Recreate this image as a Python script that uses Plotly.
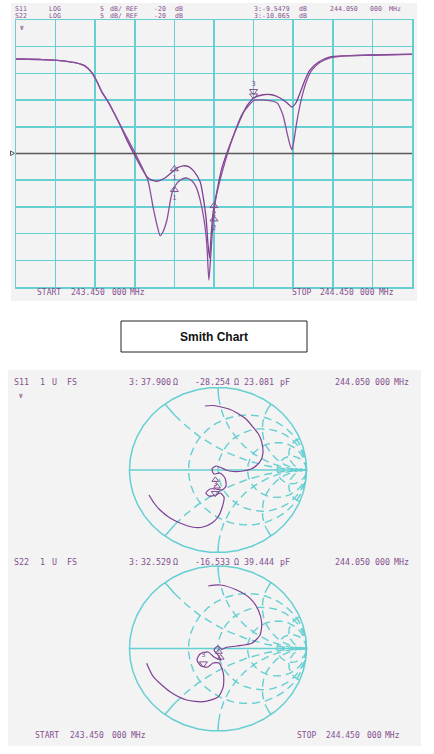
import numpy as np
import plotly.graph_objects as go

W, H = 434, 754

# ---------------- Log-magnitude data (S11 / S22) ----------------
s11_freq_mhz = [243.450, 243.511, 243.548, 243.574, 243.599, 243.624, 243.642, 243.655, 243.667, 243.680,
                243.687, 243.713, 243.730, 243.756, 243.781, 243.793, 243.806, 243.826, 243.844, 243.857,
                243.872, 243.887, 243.899, 243.915, 243.922, 243.930, 243.935, 243.939, 243.942, 243.947,
                243.958, 243.970, 243.990, 244.016, 244.033, 244.051, 244.074, 244.096, 244.117, 244.134,
                244.147, 244.157, 244.167, 244.180, 244.192, 244.213, 244.243, 244.281, 244.344, 244.450]
s11_db = [-2.3, -2.4, -2.5, -2.7, -3.0, -3.6, -4.9, -6.6, -8.5, -10.0,
          -10.9, -14.7, -17.5, -21.2, -24.4, -25.0, -25.2, -24.6, -23.5, -22.7,
          -22.3, -22.5, -23.3, -25.3, -27.8, -32.1, -37.1, -39.6, -36.2, -31.5,
          -26.8, -22.7, -18.4, -13.7, -11.1, -9.55, -9.0, -9.0, -9.6, -10.5,
          -11.3, -10.5, -8.7, -6.2, -4.4, -2.9, -1.9, -1.7, -1.55, -1.4]

s22_freq_mhz = [243.450, 243.511, 243.548, 243.574, 243.599, 243.624, 243.642, 243.655, 243.667, 243.680,
                243.687, 243.720, 243.756, 243.783, 243.796, 243.806, 243.814, 243.821, 243.831, 243.844,
                243.857, 243.869, 243.882, 243.894, 243.905, 243.915, 243.925, 243.932, 243.937, 243.942,
                243.947, 243.954, 243.972, 243.998, 244.023, 244.051, 244.079, 244.109, 244.124, 244.134,
                244.142, 244.147, 244.152, 244.160, 244.172, 244.185, 244.197, 244.218, 244.243, 244.281,
                244.344, 244.450]
s22_db = [-2.3, -2.4, -2.5, -2.7, -3.0, -3.6, -4.9, -6.6, -8.5, -10.0,
          -10.9, -15.6, -20.7, -25.0, -30.0, -33.4, -35.4, -34.7, -32.5, -27.4,
          -25.5, -24.8, -24.6, -25.1, -26.3, -28.7, -32.5, -37.1, -43.7, -39.0,
          -33.4, -28.7, -23.1, -16.9, -12.4, -10.07, -10.0, -10.5, -12.8, -16.0,
          -18.4, -19.3, -17.5, -13.7, -9.4, -6.2, -4.4, -2.9, -2.1, -1.7,
          -1.6, -1.45]

marker_freq_mhz = [243.85, 243.95, 244.05]
marker_labels = ["1", "2", "3"]
s11_marker_db = [-22.9, -29.8, -9.5479]
s22_marker_db = [-26.8, -32.3, -10.065]

# ---------------- Smith chart data (reflection coefficient) ----------------
s11_gamma_re = [-0.147, -0.068, 0.023, 0.124, 0.215, 0.316, 0.395, 0.463, 0.497, 0.508,
                0.486, 0.441, 0.373, 0.282, 0.169, 0.090, 0.045, -0.023, -0.068, -0.045,
                0.023, 0.079, 0.090, 0.045, -0.023, -0.090, -0.136, -0.102, -0.023, 0.023,
                0.068, 0.045, 0.000, -0.068, -0.169, -0.294, -0.429, -0.542, -0.655, -0.723,
                -0.780]
s11_gamma_im = [0.776, 0.782, 0.767, 0.739, 0.691, 0.618, 0.521, 0.424, 0.327, 0.206,
                0.121, 0.061, 0.012, -0.012, -0.018, 0.000, 0.024, 0.048, 0.012, -0.048,
                -0.036, -0.097, -0.194, -0.242, -0.230, -0.230, -0.279, -0.315, -0.303, -0.279,
                -0.327, -0.461, -0.570, -0.642, -0.691, -0.691, -0.642, -0.582, -0.485, -0.400,
                -0.303]

s22_gamma_re = [-0.110, 0.023, 0.211, 0.362, 0.455, 0.494, 0.475, 0.381, 0.211, 0.098,
                0.042, 0.000, -0.045, 0.000, 0.034, -0.045, -0.113, -0.203, -0.237, -0.192,
                -0.113, -0.056, 0.011, 0.060, 0.060, 0.003, -0.166, -0.354, -0.542, -0.731,
                -0.806]
s22_gamma_im = [0.758, 0.770, 0.709, 0.608, 0.467, 0.309, 0.164, 0.063, 0.030, 0.015,
                -0.010, 0.030, -0.018, -0.079, -0.139, -0.103, -0.042, -0.067, -0.139, -0.212,
                -0.224, -0.176, -0.176, -0.297, -0.463, -0.584, -0.645, -0.624, -0.524, -0.342,
                -0.179]

# marker 3 impedances (ohms) from the readout, Z0 = 50
s11_marker3_z = (37.900, -28.254)
s22_marker3_z = (32.529, -16.533)
# markers 1 and 2 (near match) as reflection coefficients
s11_mk12_re = [-0.030, -0.010]
s11_mk12_im = [-0.120, -0.200]
s22_mk12_re = [0.010, 0.030]
s22_mk12_im = [-0.040, -0.110]

# ---------------- style ----------------
TRACE = "#7e3f93"
TEXT = "#85508f"
GRID = "#66cfd2"
PANEL = "#f3f3f3"
MONO = "DejaVu Sans Mono"


def px(x):
    return x / W


def py(y):
    return 1 - y / H


def gamma_from_z(z, z0=50.0):
    zz = complex(z[0], z[1]) / z0
    g = (zz - 1) / (zz + 1)
    return g.real, g.imag


fig = go.Figure()

# ---- log mag traces ----
fig.add_trace(go.Scatter(x=s11_freq_mhz, y=s11_db, mode="lines", name="S11",
                         line=dict(color=TRACE, width=1.3, shape="spline", smoothing=0.6),
                         xaxis="x", yaxis="y", hoverinfo="skip"))
fig.add_trace(go.Scatter(x=s22_freq_mhz, y=s22_db, mode="lines", name="S22",
                         line=dict(color="#8a4f9c", width=1.3, shape="spline", smoothing=0.6),
                         xaxis="x", yaxis="y", hoverinfo="skip"))

for vals in (s11_marker_db, s22_marker_db):
    fig.add_trace(go.Scatter(x=marker_freq_mhz[:2], y=vals[:2], mode="markers+text",
                             text=marker_labels[:2], textposition="bottom center",
                             textfont=dict(family=MONO, size=7, color=TEXT),
                             marker=dict(symbol="triangle-up-open", size=7, color=TEXT, line=dict(width=1)),
                             xaxis="x", yaxis="y", hoverinfo="skip", showlegend=False))
fig.add_trace(go.Scatter(x=[marker_freq_mhz[2]] * 2, y=[s11_marker_db[2] + 1.2, s22_marker_db[2] + 0.9],
                         mode="markers", marker=dict(symbol="triangle-down-open", size=7, color=TEXT, line=dict(width=1)),
                         xaxis="x", yaxis="y", hoverinfo="skip", showlegend=False))
fig.add_trace(go.Scatter(x=[marker_freq_mhz[2]], y=[s11_marker_db[2] + 2.6], mode="text", text=[marker_labels[2]],
                         textfont=dict(family=MONO, size=7, color=TEXT),
                         xaxis="x", yaxis="y", hoverinfo="skip", showlegend=False))

# ---- Smith chart grid ----
r_circles = [0.5, 1.0, 2.0, 5.0]
x_arcs = [0.5, 1.0, 2.0, 5.0]


def smith_grid():
    sx, sy, dx, dy = [], [], [], []
    t = np.linspace(0, 2 * np.pi, 361)
    sx += list(np.cos(t)) + [None, -1, 1, None]
    sy += list(np.sin(t)) + [None, 0, 0, None]
    for r in r_circles:
        c, rad = r / (1 + r), 1 / (1 + r)
        dx += list(c + rad * np.cos(t)) + [None]
        dy += list(rad * np.sin(t)) + [None]
    for xv in x_arcs:
        for s in (1, -1):
            rs = np.linspace(0, 0.12, 15)
            g = (rs + 1j * s * xv - 1) / (rs + 1j * s * xv + 1)
            sx += list(g.real) + [None]
            sy += list(g.imag) + [None]
            rd = np.geomspace(0.12, 800, 300)
            g = (rd + 1j * s * xv - 1) / (rd + 1j * s * xv + 1)
            dx += list(g.real) + [None]
            dy += list(g.imag) + [None]
    return sx, sy, dx, dy


gsx, gsy, gdx, gdy = smith_grid()
for ax in ("2", "3"):
    fig.add_trace(go.Scatter(x=gdx, y=gdy, mode="lines", line=dict(color=GRID, width=1.4, dash="8px,5px"),
                             xaxis="x" + ax, yaxis="y" + ax, hoverinfo="skip", showlegend=False))
    fig.add_trace(go.Scatter(x=gsx, y=gsy, mode="lines", line=dict(color=GRID, width=1.5),
                             xaxis="x" + ax, yaxis="y" + ax, hoverinfo="skip", showlegend=False))

# ---- Smith traces ----
fig.add_trace(go.Scatter(x=s11_gamma_re, y=s11_gamma_im, mode="lines",
                         line=dict(color=TRACE, width=1.2, shape="spline", smoothing=0.7),
                         xaxis="x2", yaxis="y2", hoverinfo="skip", showlegend=False))
fig.add_trace(go.Scatter(x=s22_gamma_re, y=s22_gamma_im, mode="lines",
                         line=dict(color=TRACE, width=1.2, shape="spline", smoothing=0.7),
                         xaxis="x3", yaxis="y3", hoverinfo="skip", showlegend=False))

for (z3, mre, mim, ax) in ((s11_marker3_z, s11_mk12_re, s11_mk12_im, "2"),
                           (s22_marker3_z, s22_mk12_re, s22_mk12_im, "3")):
    g3 = gamma_from_z(z3)
    fig.add_trace(go.Scatter(x=mre, y=mim, mode="markers",
                             marker=dict(symbol="triangle-up-open", size=6, color=TEXT, line=dict(width=1)),
                             xaxis="x" + ax, yaxis="y" + ax, hoverinfo="skip", showlegend=False))
    fig.add_trace(go.Scatter(x=[g3[0]], y=[g3[1] + 0.05], mode="markers+text", text=["3"],
                             textposition="top center", textfont=dict(family=MONO, size=7, color=TEXT),
                             marker=dict(symbol="triangle-down-open", size=7, color=TEXT, line=dict(width=1)),
                             xaxis="x" + ax, yaxis="y" + ax, hoverinfo="skip", showlegend=False))

# ---------------- layout ----------------
RX, RY = 88.5, 82.5
CX = 218
C1Y, C2Y = 470, 648.5
PADR = 1.06


def smith_dom_x():
    return [px(CX - PADR * RX), px(CX + PADR * RX)]


def smith_dom_y(cy):
    return [py(cy + PADR * RY), py(cy - PADR * RY)]


hidden = dict(visible=False, range=[-PADR, PADR], fixedrange=True)

layout = dict(
    width=W, height=H, margin=dict(l=0, r=0, t=0, b=0),
    paper_bgcolor="white", plot_bgcolor="rgba(0,0,0,0)", showlegend=False,
    xaxis=dict(domain=[px(16), px(412)], range=[243.45, 244.45], tick0=243.45, dtick=0.1,
               showticklabels=False, ticks="", gridcolor=GRID, gridwidth=1.5, zeroline=False,
               showline=True, mirror=True, linecolor=GRID, linewidth=1.5, fixedrange=True),
    yaxis=dict(domain=[py(287), py(20)], range=[-45, 5], tick0=-45, dtick=5,
               showticklabels=False, ticks="", gridcolor=GRID, gridwidth=1.5, zeroline=False,
               showline=True, mirror=True, linecolor=GRID, linewidth=1.5, fixedrange=True),
    xaxis2=dict(domain=smith_dom_x(), anchor="y2", **hidden),
    yaxis2=dict(domain=smith_dom_y(C1Y), anchor="x2", **hidden),
    xaxis3=dict(domain=smith_dom_x(), anchor="y3", **hidden),
    yaxis3=dict(domain=smith_dom_y(C2Y), anchor="x3", **hidden),
)
fig.update_layout(**layout)

shapes = [
    dict(type="rect", xref="paper", yref="paper", x0=px(11), x1=px(417), y0=py(301), y1=py(3),
         fillcolor=PANEL, line=dict(width=0), layer="below"),
    dict(type="rect", xref="paper", yref="paper", x0=px(8), x1=px(421), y0=py(746), y1=py(370),
         fillcolor=PANEL, line=dict(width=0), layer="below"),
    dict(type="line", xref="x domain", yref="y", x0=0, x1=1, y0=-20, y1=-20,
         line=dict(color="#5a5a5a", width=1.5)),
    dict(type="path", xref="paper", yref="paper",
         path=f"M {px(10.5)},{py(151)} L {px(14.5)},{py(153.3)} L {px(10.5)},{py(155.6)} Z",
         line=dict(color="#5a5a5a", width=1), fillcolor="rgba(0,0,0,0)"),
    dict(type="rect", xref="paper", yref="paper", x0=px(121), x1=px(307), y0=py(352), y1=py(321),
         line=dict(color="#222222", width=1), fillcolor="white"),
]
fig.update_layout(shapes=shapes)

annotations = []


def txt(t, x, y, size=8.3, color=TEXT, family=MONO, anchor="left", bold=False):
    annotations.append(dict(text=("<b>%s</b>" % t) if bold else t, x=px(x), y=py(y), xref="paper", yref="paper",
                            xanchor=anchor, yanchor="middle", showarrow=False,
                            font=dict(family=family, size=size, color=color)))


for t, x in [("S11", 13), ("LOG", 47), ("5", 98), ("dB/ REF", 108), ("-20", 152), ("dB", 173),
             ("3:-9.5479", 252), ("dB", 297), ("244.050", 328), ("000", 368), ("MHz", 387)]:
    txt(t, x, 8.6, size=6.6)
for t, x in [("S22", 13), ("LOG", 47), ("5", 98), ("dB/ REF", 108), ("-20", 152), ("dB", 173),
             ("3:-10.065", 252), ("dB", 297)]:
    txt(t, x, 16.2, size=6.6)
txt("Ψ", 17.5, 27, size=6)
for t, x in [("START", 35), ("243.450", 69), ("000", 110), ("MHz", 128),
             ("STOP", 290), ("244.450", 318), ("000", 358), ("MHz", 377)]:
    txt(t, x, 292.3, size=8)

txt("Smith Chart", 214, 336.5, size=12, color="#111111", family="Liberation Sans, Arial", anchor="center", bold=True)

for yy, name, vals in [(382.3, "S11", ("37.900", "-28.254", "23.081")),
                       (562.3, "S22", ("32.529", "-16.533", "39.444"))]:
    for t, x in [(name, 12), ("1", 38), ("U", 50), ("FS", 65), ("3:", 127), (vals[0], 139), ("Ω", 171),
                 (vals[1], 193), ("Ω", 232), (vals[2], 242), ("pF", 278),
                 ("244.050", 333), ("000", 373), ("MHz", 392)]:
        txt(t, x, yy, size=8.3)
txt("Ψ", 16.5, 396, size=6)
for t, x in [("START", 33), ("243.450", 68), ("000", 110), ("MHz", 129),
             ("STOP", 295), ("244.450", 324), ("000", 365), ("MHz", 383)]:
    txt(t, x, 735, size=8)

fig.update_layout(annotations=annotations)

fig.write_html("out.html", config={"displayModeBar": False, "staticPlot": True},
               post_script="document.body.style.margin='0';")
